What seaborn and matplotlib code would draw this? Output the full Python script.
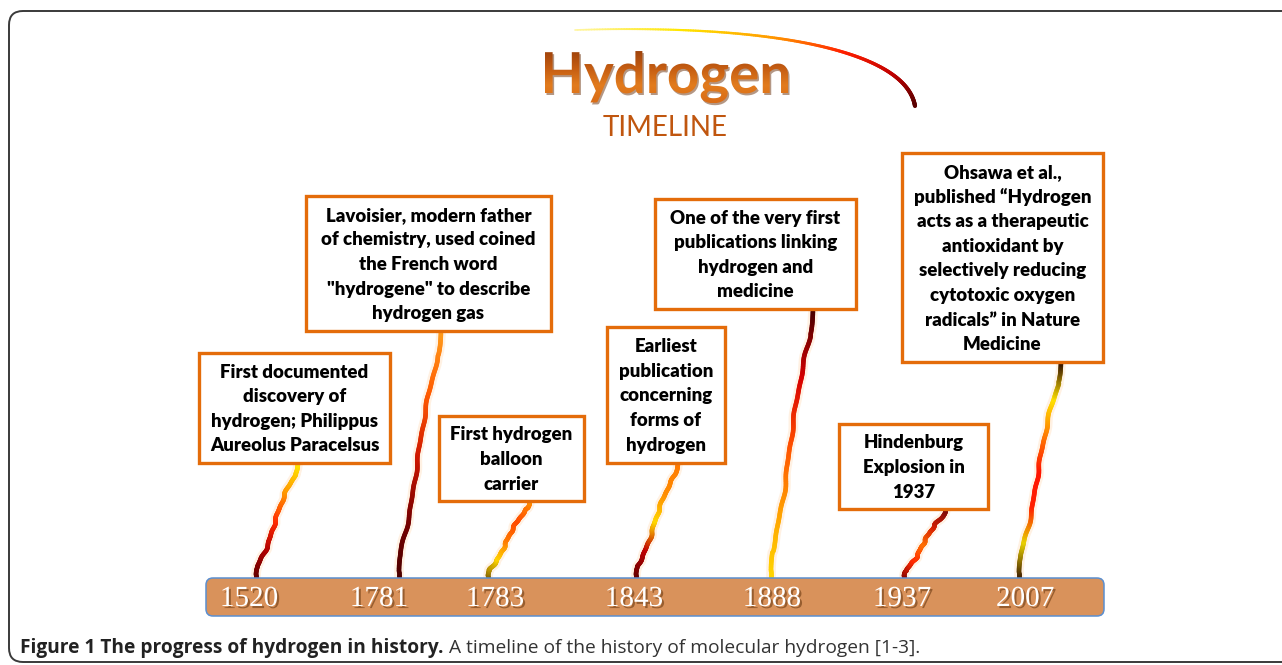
"""Hydrogen timeline infographic."""
import matplotlib
matplotlib.use("Agg")
import matplotlib.pyplot as plt
import matplotlib.patheffects as pe
from matplotlib.patches import FancyBboxPatch, PathPatch
from matplotlib.collections import LineCollection
from matplotlib.textpath import TextPath
from matplotlib.font_manager import FontProperties
from matplotlib.transforms import Affine2D
import numpy as np
import seaborn as sns

sns.set_theme(style="white")
plt.rcParams["font.family"] = ["Lato", "DejaVu Sans"]

W, H = 1282, 665

# ── data ────────────────────────────────────────────────────────────────────
years = ["1520", "1781", "1783", "1843", "1888", "1937", "2007"]
events = [
    "First documented\ndiscovery of\nhydrogen; Philippus\nAureolus Paracelsus",
    "Lavoisier, modern father\nof chemistry, used coined\nthe French word\n\"hydrogene\" to describe\nhydrogen gas",
    "First hydrogen\nballoon\ncarrier",
    "Earliest\npublication\nconcerning\nforms of\nhydrogen",
    "One of the very first\npublications linking\nhydrogen and\nmedicine",
    "Hindenburg\nExplosion in\n1937",
    "Ohsawa et al.,\npublished \u201cHydrogen\nacts as a therapeutic\nantioxidant by\nselectively reducing\ncytotoxic oxygen\nradicals\u201d in Nature\nMedicine",
]
caption_bold = "Figure 1 The progress of hydrogen in history."
caption_rest = " A timeline of the history of molecular hydrogen [1-3]."

# ── layout (pixels) ─────────────────────────────────────────────────────────
year_x = [249, 379, 495, 634, 772, 902, 1025]
stem_x = [256, 399, 488, 636, 771, 904, 1019]
box_l = [199, 306, 439, 607, 655, 839, 902]
box_t = [353, 196, 416, 327, 199, 424, 153]
box_w = [191, 245, 145, 118, 201, 149, 201]
box_h = [110, 135, 85, 136, 110, 85, 209]
stem_colors = [
    ["#5c0000", "#b00000", "#ff2a00", "#ff9400", "#ffe600"],
    ["#4a0000", "#7a0000", "#d01800", "#ff5a00", "#ff9a1a"],
    ["#7a5a00", "#ffd400", "#ff7a00", "#ff4a00", "#ff8c00"],
    ["#5c0000", "#c00000", "#ffd800", "#ff8c00", "#ff7a00"],
    ["#ffd800", "#ffa000", "#ff5000", "#d80000", "#4a0000"],
    ["#7a0000", "#ff2a00", "#ff7000", "#d82000", "#7a0a0a"],
    ["#3a1800", "#e8d000", "#ff2000", "#ff1400", "#ff7a00", "#ffe000", "#3a1800"],
]

ORANGE = "#E46C0A"
BAR = "#D9925B"

fig = plt.figure(figsize=(W / 100, H / 100), dpi=100)
ax = fig.add_axes([0, 0, 1, 1])
ax.set_xlim(0, W)
ax.set_ylim(H, 0)
ax.axis("off")

# outer frame
ax.add_patch(FancyBboxPatch((9, 11), 1320, 651, boxstyle="round,pad=0,rounding_size=14",
                            fc="white", ec="#3a3a3a", lw=1.4, zorder=0))

# ── title ───────────────────────────────────────────────────────────────────
tp = TextPath((0, 0), "Hydrogen", size=100, prop=FontProperties(family="Lato", weight="bold"))
ext = tp.get_extents()
s = 243 / ext.width
x0, base = 545, 93
tr = Affine2D().translate(-ext.x0, 0).scale(s, -s).translate(x0, base) + ax.transData
shadow = PathPatch(tp, transform=Affine2D().translate(-ext.x0, 0).scale(s, -s).translate(x0 + 1.5, base + 2)
                   + ax.transData, fc="#6a300a", ec="none", alpha=0.5, zorder=3)
ax.add_patch(shadow)
tpatch = PathPatch(tp, transform=tr, fc="none", ec="none", zorder=4)
ax.add_patch(tpatch)
grad = np.linspace(0, 1, 100).reshape(-1, 1)
title_cmap = sns.blend_palette(["#9e420b", "#c45c12", "#e27c1e", "#d96c17"], as_cmap=True)
top = base - ext.y1 * s
bot = base - ext.y0 * s
im = ax.imshow(grad, cmap=title_cmap, aspect="auto", extent=(x0, x0 + 243, bot, top), zorder=4)
im.set_clip_path(tpatch)
ax.set_xlim(0, W)
ax.set_ylim(H, 0)

ax.text(665, 128, "TIMELINE", ha="center", va="center", fontsize=20, color="#C0560F")

# title arc
t = np.linspace(0, 1, 200)
P = np.array([[575, 30], [760, 24], [905, 48], [915, 106]])
bez = ((1 - t) ** 3)[:, None] * P[0] + (3 * (1 - t) ** 2 * t)[:, None] * P[1] \
    + (3 * (1 - t) * t ** 2)[:, None] * P[2] + (t ** 3)[:, None] * P[3]
segs = np.stack([bez[:-1], bez[1:]], axis=1)
arc_cols = sns.blend_palette(["#fff6a0", "#ffe600", "#ff9a00", "#ff2000", "#c00000", "#5a0000"], len(segs))
ax.add_collection(LineCollection(segs, colors=arc_cols, linewidths=np.linspace(1.2, 3.0, len(segs)),
                                 capstyle="round", zorder=2))

# ── stems ───────────────────────────────────────────────────────────────────
tk = [0.0, 0.08, 0.16, 0.3, 0.45, 0.6, 0.72, 0.82, 0.9, 0.96, 1.0]
fk = [0.0, 0.0, 0.12, 0.3, 0.42, 0.55, 0.68, 0.8, 0.95, 1.0, 1.0]
bar_top = 578
for k, (bx, l, tpx, w, h, cols) in enumerate(zip(stem_x, box_l, box_t, box_w, box_h, stem_colors)):
    y_top = tpx + h
    tt = np.linspace(0, 1, 160)
    f = np.interp(tt, tk, fk)
    f = np.convolve(np.pad(f, 8, mode="edge"), np.ones(17) / 17, mode="valid")
    wig = 0.7 * np.sin(tt * 31 + k) + 0.4 * np.sin(tt * 57 + 2 * k)
    xs = bx + 42 * f + wig * (tt > 0.1) * (tt < 0.9)
    ys = bar_top - (bar_top - y_top) * tt
    pts = np.column_stack([xs, ys])
    sg = np.stack([pts[:-1], pts[1:]], axis=1)
    ax.plot(xs, ys, color="#ffd9b0", lw=7, alpha=0.35, solid_capstyle="round", zorder=2)
    ax.add_collection(LineCollection(sg, colors=sns.blend_palette(cols, len(sg)),
                                     linewidths=3.3, capstyle="round", zorder=3))

# ── boxes ───────────────────────────────────────────────────────────────────
LINE = 24.6
for txt, l, tpx, w, h in zip(events, box_l, box_t, box_w, box_h):
    ax.add_patch(FancyBboxPatch((l, tpx), w, h, boxstyle="square,pad=0", fc="white",
                                ec=ORANGE, lw=2.4, zorder=5))
    lines = txt.split("\n")
    cy = tpx + h / 2
    for i, ln in enumerate(lines):
        ax.text(l + w / 2, cy + (i - (len(lines) - 1) / 2) * LINE + 1, ln, ha="center", va="center",
                fontsize=13.4, fontweight="heavy", color="#000000", zorder=6)

# ── timeline bar ────────────────────────────────────────────────────────────
ax.add_patch(FancyBboxPatch((206, 578), 898, 38, boxstyle="round,pad=0,rounding_size=7",
                            fc=BAR, ec="#5B8FD0", lw=1.1, zorder=4))
for x, yr in zip(year_x, years):
    ax.text(x, 599, yr, ha="center", va="center", fontsize=21, color="white",
            family="Liberation Serif", zorder=6,
            path_effects=[pe.withSimplePatchShadow(offset=(1.5, -1.5), shadow_rgbFace="#6b3a12",
                                                   alpha=0.6)])

# ── caption ─────────────────────────────────────────────────────────────────
t1 = ax.text(20, 648, caption_bold, ha="left", va="center", fontsize=13.8, fontweight="bold",
             color="#222222", family=["Open Sans", "DejaVu Sans"])
ax.annotate(caption_rest, xy=(1, 0.5), xycoords=t1, ha="left", va="center", fontsize=13.8,
            color="#333333", family=["Open Sans", "DejaVu Sans"])

fig.savefig("out.png", dpi=100)
plt.close(fig)
